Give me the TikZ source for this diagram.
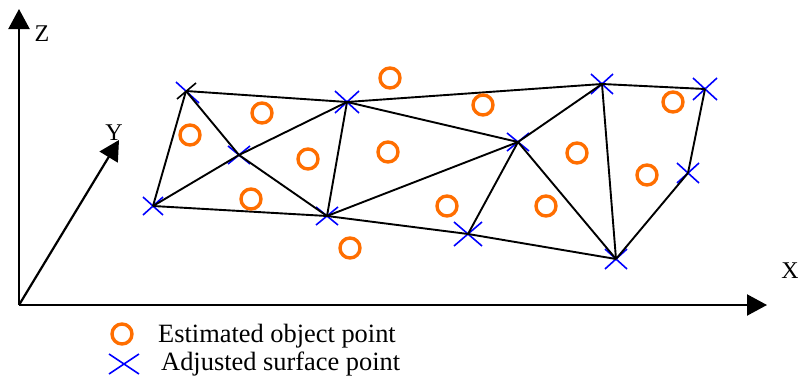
\documentclass[tikz,border=0pt]{standalone}
\usepackage{fontspec}
\setmainfont{Liberation Serif}
\usetikzlibrary{arrows.meta}
\tikzset{
  edge/.style={line width=1.9pt, black},
  axis/.style={line width=2.2pt, black, -{Triangle[length=20pt,width=21pt]}},
  obj/.style={draw={rgb,255:red,255;green,110;blue,0}, line width=3.4pt, circle, minimum size=20pt, inner sep=0pt},
  crossarm/.style={line width=1.6pt, blue},
  lbl/.style={font=\fontsize{24}{28}\selectfont, inner sep=0pt},
  leg/.style={font=\fontsize{26.4}{30}\selectfont, inner sep=0pt, anchor=base west}
}
\newcommand{\xmark}[3]{% name, hx, hy
  \draw[crossarm] ([shift={(-#2,-#3)}]#1) -- ([shift={(#2,#3)}]#1);
  \draw[crossarm] ([shift={(-#2,#3)}]#1) -- ([shift={(#2,-#3)}]#1);
}
\begin{document}
\begin{tikzpicture}[x=1pt,y=-1pt]
\useasboundingbox (0,0) rectangle (798,375);
% axes
\coordinate (O) at (19,305);
\coordinate (Zt) at (19,9);
\coordinate (Xt) at (767,305);
\coordinate (Yt) at (119,140);
\draw[axis] (O) -- (Zt);
\draw[axis] (O) -- (Xt);
\draw[axis] (O) -- (Yt);
\node[lbl] (zl) at (42,34) {Z};
\node[lbl] (yl) at (114,133) {Y};
\node[lbl] (xl) at (790,271) {X};
% vertices
\coordinate (A) at (186,91);
\coordinate (B) at (153,206);
\coordinate (C) at (239,155);
\coordinate (D) at (347,102);
\coordinate (E) at (327,216);
\coordinate (F) at (518,142);
\coordinate (G) at (468,234);
\coordinate (H) at (602,84);
\coordinate (I) at (705,89);
\coordinate (J) at (688,173);
\coordinate (K) at (616,259);
% crosses (drawn first)
\draw[crossarm] ([shift={(-10,-9)}]A) -- ([shift={(13,12)}]A);
\draw[line width=1.6pt, black] ([shift={(-9,8)}]A) -- ([shift={(10,-8)}]A);
\xmark{B}{10}{9}
\xmark{C}{11}{9}
\xmark{D}{12}{11}
\xmark{E}{11}{9}
\xmark{F}{11}{9}
\xmark{G}{14}{12}
\xmark{H}{11}{10}
\xmark{I}{12}{11}
\xmark{J}{11}{10}
\xmark{K}{11}{10}
% edges
\draw[edge] (A) -- (D);
\draw[edge] (A) -- (B);
\draw[edge] (A) -- (C);
\draw[edge] (C) -- (E);
\draw[edge] (B) -- (C);
\draw[edge] (C) -- (D);
\draw[edge] (B) -- (E);
\draw[edge] (D) -- (E);
\draw[edge] (D) -- (H);
\draw[edge] (D) -- (F);
\draw[edge] (E) -- (F);
\draw[edge] (E) -- (G);
\draw[edge] (G) -- (F);
\draw[edge] (G) -- (K);
\draw[edge] (F) -- (K);
\draw[edge] (F) -- (H);
\draw[edge] (H) -- (K);
\draw[edge] (H) -- (I);
\draw[edge] (I) -- (J);
\draw[edge] (J) -- (K);
% object points
\node[obj] (o1) at (190,135) {};
\node[obj] (o2) at (262,113) {};
\node[obj] (o3) at (308,159) {};
\node[obj] (o4) at (251,199) {};
\node[obj] (o5) at (350,248) {};
\node[obj] (o6) at (390,78) {};
\node[obj] (o7) at (388,152) {};
\node[obj] (o8) at (483,105) {};
\node[obj] (o9) at (577,153) {};
\node[obj] (o10) at (447,206) {};
\node[obj] (o11) at (546,206) {};
\node[obj] (o12) at (647,175) {};
\node[obj] (o13) at (673,102) {};
% legend
\node[obj] (lo) at (122,334) {};
\coordinate (lx) at (124,364);
\xmark{lx}{15}{10}
\node[leg] (lt1) at (158,342) {Estimated object point};
\node[leg] (lt2) at (161,370) {Adjusted surface point};
\end{tikzpicture}
\end{document}
